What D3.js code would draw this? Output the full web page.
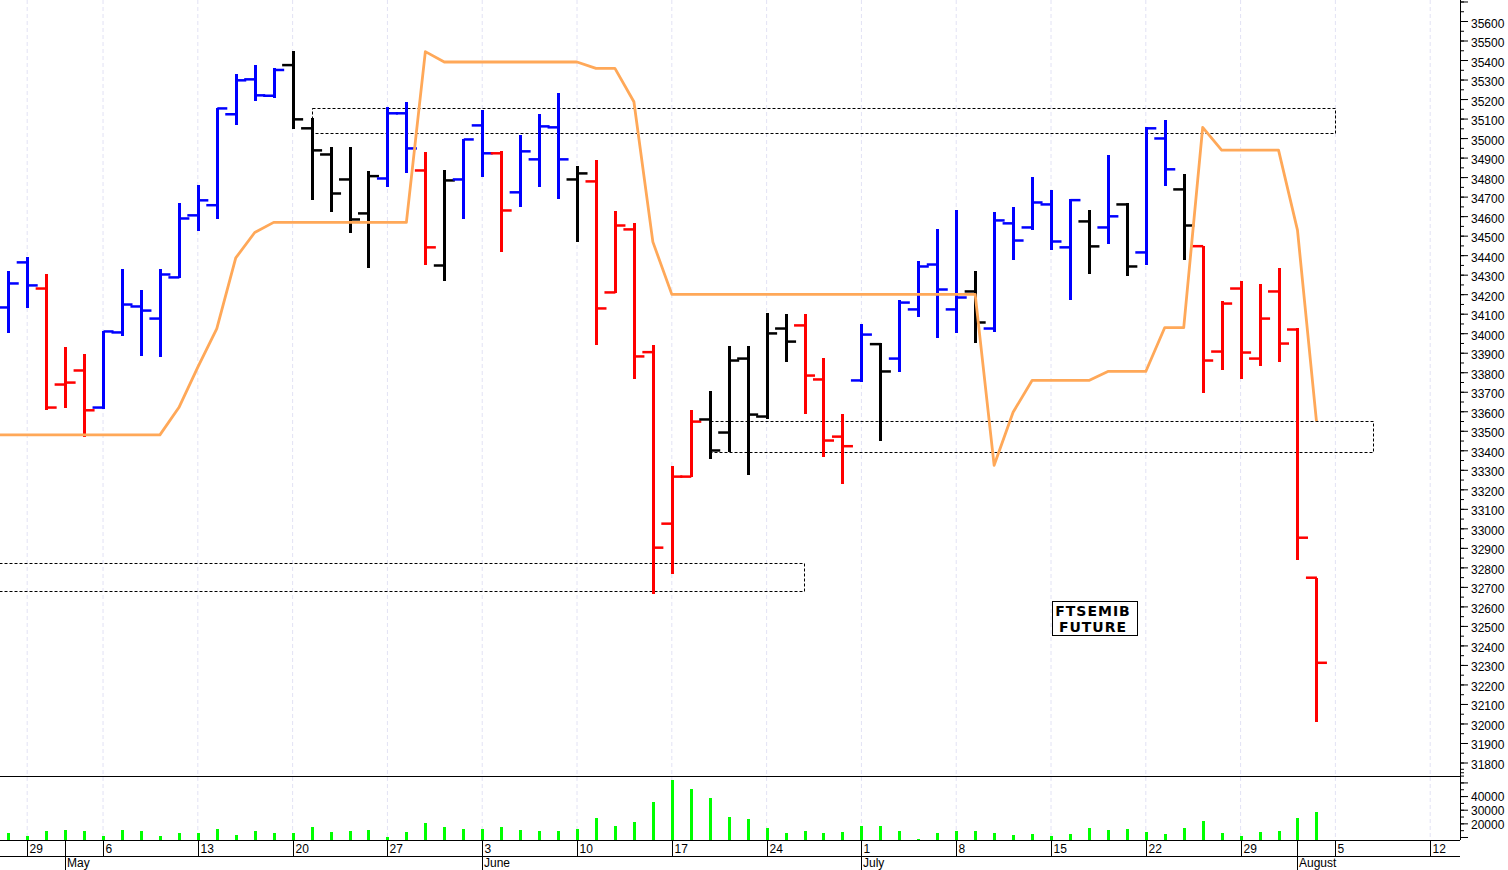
<!DOCTYPE html>
<html>
<head>
<meta charset="utf-8">
<script src="https://cdn.jsdelivr.net/npm/d3@7/dist/d3.min.js"></script>
<style>
html, body { margin: 0; padding: 0; background: #fff; overflow: hidden; }
text { font-family: "Liberation Sans", Arial, sans-serif; font-size: 12px; fill: #000; }
</style>
</head>
<body>
<script>
// session numbers: 0 is one session before the first bar, 2 is Monday 29 April
var firstBar = 1;
var highs = [34320,34391,34306,33930,33892,34012,34330,34224,34330,34665,34757,35154,35327,35373,35357,35448,35101,34955,34955,34832,35157,35183,34927,34837,34995,35142,34932,35014,35122,35229,34855,34886,34627,34566,33942,33318,33605,33706,33935,33932,34106,34096,34096,33872,33586,34048,33949,34169,34369,34532,34631,34320,34622,34648,34798,34732,34686,34632,34913,34665,35058,35091,34817,34446,34164,34270,34250,34335,34029,32747];
var lows = [33999,34127,33605,33619,33468,33614,33985,33884,33879,34281,34522,34586,35065,35188,35205,35048,34681,34622,34516,34335,34747,34819,34352,34268,34583,34800,34417,34648,34750,34689,34468,33939,34204,33764,32665,32768,33263,33354,33391,33275,33561,33855,33588,33368,33229,33750,33448,33800,34081,33978,34002,33952,34004,34373,34528,34424,34168,34304,34458,34291,34349,34755,34373,33696,33814,33763,33834,33855,32836,32007];
var opens = [34132,34363,34229,33737,33809,33619,34004,34137,34075,34286,34604,34656,35122,35301,35217,35374,35050,34916,34788,34614,34793,35127,34834,34347,34788,35065,34922,34722,34891,35055,34788,34778,34209,34532,33903,33024,33265,33558,33491,33870,33573,34024,34040,33763,33470,33758,33944,33870,34122,34352,34122,34214,34024,34563,34542,34660,34440,34573,34542,34660,34414,34998,34737,34446,33906,34229,33870,34214,34019,32747];
var closes = [34255,34245,33619,33747,33605,34009,34147,34116,34301,34588,34681,35152,35296,35219,35349,35096,34937,34716,34583,34805,35127,34947,34440,34783,34993,34922,34629,34932,35060,34891,34819,34127,34552,33881,32901,33265,33547,33399,33860,33583,33999,33957,33783,33450,33421,33993,33804,34157,34342,34224,34183,34055,34578,34475,34670,34470,34682,34445,34599,34342,35050,34840,34552,33860,34152,33901,34075,33947,32952,32311];
// u = up, d = down, n = neutral
var trend = ("uu"+"ddd"+"uuuuuuuuuu"+"nnnnn"+"uu"+"d"+"n"+"uu"+"d"+"uuu"+"n"+"dddddd"+"nnnnn"+"ddd"+"u"+"n"+"uuuu"+"n"+"uuuuu"+"n"+"u"+"n"+"uu"+"n"+"ddddddd").split("");
var volumes = [12700,11000,14200,14900,14200,11000,14900,14200,10500,12700,12900,15600,11700,14200,12900,12700,17100,13700,14200,14900,9800,13700,20300,17100,15600,15600,17300,14900,14400,14200,16100,23700,18100,21000,35900,51600,45000,38600,24400,23000,16800,13200,14200,12700,13900,18100,18100,14600,8300,12700,14600,14200,12700,11200,12000,11000,12000,16800,14900,15600,13900,12400,16800,21500,13200,11000,13900,14600,23700,28100];
var stopLine = [33479,33479,33479,33479,33479,33479,33479,33479,33479,33479,33619,33826,34024,34386,34516,34568,34568,34568,34568,34568,34568,34568,34568,35443,35390,35390,35390,35390,35390,35390,35390,35390,35357,35357,35186,34468,34199,34199,34199,34199,34199,34199,34199,34199,34199,34199,34199,34199,34199,34199,34199,34199,34199,33323,33595,33758,33758,33758,33758,33804,33804,33804,34029,34029,35055,34938,34938,34938,34938,34528,33549];

var weekSessions = [2,6,11,16,21,26,31,36,41,46,51,56,61,66,71,76];
var weekLabels = ["29","6","13","20","27","3","10","17","24","1","8","15","22","29","5","12"];
var monthSessions = [4,26,46,69];
var monthLabels = ["May","June","July","August"];

// price zones: first session, last session, top, bottom
var zoneStart = [17,38,0];
var zoneEnd = [71,73,43];
var zoneTop = [35152,33547,32819];
var zoneBottom = [35024,33388,32675];

var priceMajor = d3.range(31800,35701,100);
var priceMinor = d3.range(31750,35701,50);
var volumeMajor = [10000,20000,30000,40000,50000];
var volumeMinor = d3.range(10000,60001,5000);
var volumeLabels = [20000,30000,40000];

var trendColor = {u:"#0000ff", d:"#ff0000", n:"#000000"};

var width = 1508, height = 870;
var plotRight = 1460, priceBottom = 776, volumeBottom = 840, dateBottom = 856;
var barShift = 0.5;

var x = d3.scaleLinear().domain([2,76]).range([27.2,1430.2]);
var y = d3.scaleLinear().domain([35600,31800]).range([21,762.5]);
var yVol = d3.scaleLinear().domain([7800,60000]).range([volumeBottom,840-52200/733]);

var svg = d3.select("body").append("svg")
	.attr("width",width).attr("height",height)
	.style("display","block");

svg.append("clipPath").attr("id","plot").append("rect")
	.attr("x",0).attr("y",0).attr("width",plotRight).attr("height",priceBottom);

// week grid runs through both panels
svg.append("g").selectAll("line")
	.data(weekSessions)
	.enter().append("line")
	.attr("x1",function(d){return x(d);})
	.attr("x2",function(d){return x(d);})
	.attr("y1",0).attr("y2",volumeBottom)
	.style("stroke","#e2e2f4")
	.style("stroke-width",1)
	.style("stroke-dasharray","4,3");

var plot = svg.append("g").attr("clip-path","url(#plot)");

plot.append("g").selectAll("rect")
	.data(d3.range(zoneStart.length))
	.enter().append("rect")
	.attr("x",function(i){return Math.round(x(zoneStart[i]))+0.5;})
	.attr("y",function(i){return Math.floor(y(zoneTop[i]))+0.5;})
	.attr("width",function(i){return Math.floor(x(zoneEnd[i]))-Math.round(x(zoneStart[i]));})
	.attr("height",function(i){return Math.floor(y(zoneBottom[i]))-Math.floor(y(zoneTop[i]));})
	.style("fill","none")
	.style("stroke","#000")
	.style("stroke-width",1)
	.style("stroke-dasharray","3,2");

var bars = plot.append("g").selectAll("g")
	.data(d3.range(highs.length))
	.enter().append("g")
	.style("stroke",function(i){return trendColor[trend[i]];});

bars.append("line")
	.attr("x1",function(i){return x(i+firstBar)+barShift;})
	.attr("x2",function(i){return x(i+firstBar)+barShift;})
	.attr("y1",function(i){return y(highs[i]);})
	.attr("y2",function(i){return y(lows[i]);})
	.style("stroke-width",3)
	.style("shape-rendering","crispEdges");
bars.append("line")
	.attr("x1",function(i){return x(i+firstBar)-10.5;})
	.attr("x2",function(i){return x(i+firstBar)+barShift;})
	.attr("y1",function(i){return y(opens[i]);})
	.attr("y2",function(i){return y(opens[i]);})
	.style("stroke-width",2.5);
bars.append("line")
	.attr("x1",function(i){return x(i+firstBar)+barShift;})
	.attr("x2",function(i){return x(i+firstBar)+10.5;})
	.attr("y1",function(i){return y(closes[i]);})
	.attr("y2",function(i){return y(closes[i]);})
	.style("stroke-width",2.5);

var stopPath = d3.line()
	.x(function(d,i){return x(i);})
	.y(function(d){return y(d);});
plot.append("path")
	.attr("d",stopPath(stopLine))
	.style("fill","none")
	.style("stroke","#ffa858")
	.style("stroke-width",2.8)
	.style("stroke-linejoin","round");

// volume bars
svg.append("g").selectAll("line")
	.data(volumes)
	.enter().append("line")
	.attr("x1",function(d,i){return x(i+firstBar)+barShift;})
	.attr("x2",function(d,i){return x(i+firstBar)+barShift;})
	.attr("y1",function(d){return yVol(d);})
	.attr("y2",volumeBottom)
	.style("stroke","#00ff00")
	.style("stroke-width",3)
	.style("shape-rendering","crispEdges");

// frame lines
var frame = svg.append("g").style("stroke","#000").style("stroke-width",1).style("shape-rendering","crispEdges");
frame.append("line").attr("x1",0).attr("x2",plotRight).attr("y1",priceBottom+0.5).attr("y2",priceBottom+0.5);
frame.append("line").attr("x1",0).attr("x2",plotRight).attr("y1",volumeBottom+0.5).attr("y2",volumeBottom+0.5);
frame.append("line").attr("x1",0).attr("x2",plotRight).attr("y1",dateBottom+0.5).attr("y2",dateBottom+0.5);
frame.append("line").attr("x1",plotRight+0.5).attr("x2",plotRight+0.5).attr("y1",0).attr("y2",volumeBottom);

// price and volume axes, minor ticks drawn first
var priceMinorAxis = d3.axisRight(y).tickValues(priceMinor).tickSize(4).tickFormat("");
var priceMajorAxis = d3.axisRight(y).tickValues(priceMajor).tickSize(8).tickPadding(3)
	.tickFormat(function(d){return d<=35600 ? d : "";});
var volMinorAxis = d3.axisRight(yVol).tickValues(volumeMinor).tickSize(4).tickFormat("");
var volMajorAxis = d3.axisRight(yVol).tickValues(volumeMajor).tickSize(8).tickPadding(3)
	.tickFormat(function(d){return volumeLabels.indexOf(d)>=0 ? d : "";});

function drawAxis(axis, dy) {
	var g = svg.append("g").attr("transform","translate("+plotRight+",0)").call(axis);
	g.select(".domain").remove();
	g.attr("font-family",null).attr("font-size",null);
	g.selectAll("text").attr("dy",dy);
}
drawAxis(priceMinorAxis,".5em");
drawAxis(priceMajorAxis,".5em");
drawAxis(volMinorAxis,".4em");
drawAxis(volMajorAxis,".4em");

// week labels and separators
svg.append("g").selectAll("line")
	.data(weekSessions)
	.enter().append("line")
	.attr("x1",function(d){return Math.round(x(d))+0.5;})
	.attr("x2",function(d){return Math.round(x(d))+0.5;})
	.attr("y1",volumeBottom).attr("y2",dateBottom)
	.style("stroke","#000");
svg.append("g").selectAll("text")
	.data(weekSessions)
	.enter().append("text")
	.attr("x",function(d){return Math.round(x(d))+2.5;})
	.attr("y",853)
	.text(function(d,i){return weekLabels[i];});

svg.append("g").selectAll("line")
	.data(monthSessions)
	.enter().append("line")
	.attr("x1",function(d){return Math.round(x(d))+0.5;})
	.attr("x2",function(d){return Math.round(x(d))+0.5;})
	.attr("y1",volumeBottom).attr("y2",height)
	.style("stroke","#000");
svg.append("g").selectAll("text")
	.data(monthSessions)
	.enter().append("text")
	.attr("x",function(d){return Math.round(x(d))+2;})
	.attr("y",867)
	.text(function(d,i){return monthLabels[i];});

// name box
svg.append("rect")
	.attr("x",1052.5).attr("y",601.5).attr("width",85).attr("height",34)
	.style("fill","#fff").style("stroke","#000").style("stroke-width",1);
svg.selectAll(".name")
	.data(["FTSEMIB","FUTURE"])
	.enter().append("text")
	.attr("class","name")
	.attr("x",1093)
	.attr("y",function(d,i){return 615.5+i*16.5;})
	.attr("text-anchor","middle")
	.style("font-family","'DejaVu Sans', sans-serif")
	.style("font-weight","bold")
	.style("font-size","14px")
	.style("letter-spacing","1px")
	.text(function(d){return d;});
</script>
</body>
</html>
